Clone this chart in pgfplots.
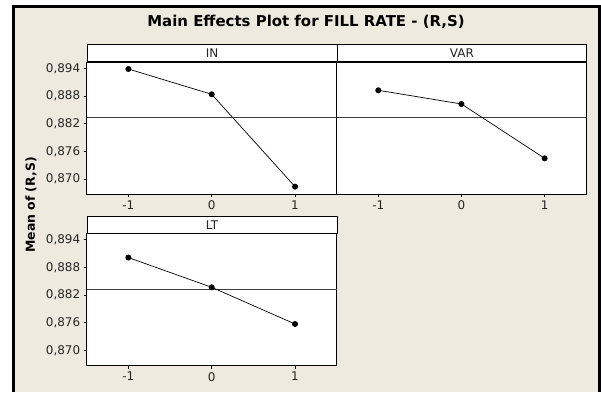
\documentclass[border=0pt]{standalone}
\usepackage{pgfplots}
\pgfplotsset{compat=1.18}
\usepackage{fontspec}
\setmainfont{DejaVu Sans}
\definecolor{bgbeige}{RGB}{238,234,224}
\pgfplotsset{panel/.style={
  scale only axis, width=250bp, height=132bp, anchor=south west,
  xmin=-1.5, xmax=1.5, ymin=0.86668, ymax=0.8953,
  xtick={-1,0,1}, ytick={0.870,0.876,0.882,0.888,0.894},
  scaled y ticks=false,
  tick align=outside, xtick pos=bottom, ytick pos=left, major tick length=3bp,
  tick style={black, line width=0.6bp},
  axis line style={black, line width=0.8bp},
  axis background/.style={fill=white},
  tick label style={font=\fontsize{12}{13}\selectfont, text=black!85},
  /pgf/number format/assume math mode=true,
  y tick label style={/pgf/number format/.cd, fixed, fixed zerofill, precision=3, use comma},
  clip=false,
}}
\tikzset{strip/.style={draw=black, line width=0.8bp, fill=white, minimum width=250bp, minimum height=17bp,
  anchor=south west, inner sep=0pt, font=\fontsize{12}{13}\selectfont, text=black!85}}
\begin{document}
\begin{tikzpicture}[x=1bp,y=1bp]
\fill[white] (0,0) rectangle (601,392);
\fill[bgbeige] (13.5,0) rectangle (599.3,385.3);
\draw[line width=2.4bp] (13.5,0) -- (13.5,385.3) -- (599.3,385.3) -- (599.3,0);
\node[font=\bfseries\fontsize{15}{16}\selectfont] at (306,370.3) {Main Effects Plot for FILL RATE - (R,S)};
\node[font=\bfseries\fontsize{12.5}{13}\selectfont, rotate=90] at (31,187) {Mean of (R,S)};

\begin{axis}[panel, name=a1, at={(86.7bp,197.7bp)}]
\addplot[black!75, line width=0.6bp] coordinates {(-1.5,0.8833) (1.5,0.8833)};
\addplot[black, line width=0.7bp, mark=*, mark size=2.6bp] coordinates {(-1,0.89385) (0,0.88836) (1,0.86834)};
\end{axis}
\node[strip] at (a1.north west) {IN};

\begin{axis}[panel, name=a2, at={(336.7bp,197.7bp)}, width=249.5bp, ytick=\empty]
\addplot[black!75, line width=0.6bp] coordinates {(-1.5,0.8833) (1.5,0.8833)};
\addplot[black, line width=0.7bp, mark=*, mark size=2.6bp] coordinates {(-1,0.88923) (0,0.88626) (1,0.87448)};
\end{axis}
\node[strip, minimum width=249.5bp] at (a2.north west) {VAR};

\begin{axis}[panel, name=a3, at={(86.7bp,26.3bp)}]
\addplot[black!75, line width=0.6bp] coordinates {(-1.5,0.8833) (1.5,0.8833)};
\addplot[black, line width=0.7bp, mark=*, mark size=2.6bp] coordinates {(-1,0.89013) (0,0.88368) (1,0.87572)};
\end{axis}
\node[strip] at (a3.north west) {LT};
\useasboundingbox (0,0) rectangle (601,392);
\end{tikzpicture}
\end{document}
